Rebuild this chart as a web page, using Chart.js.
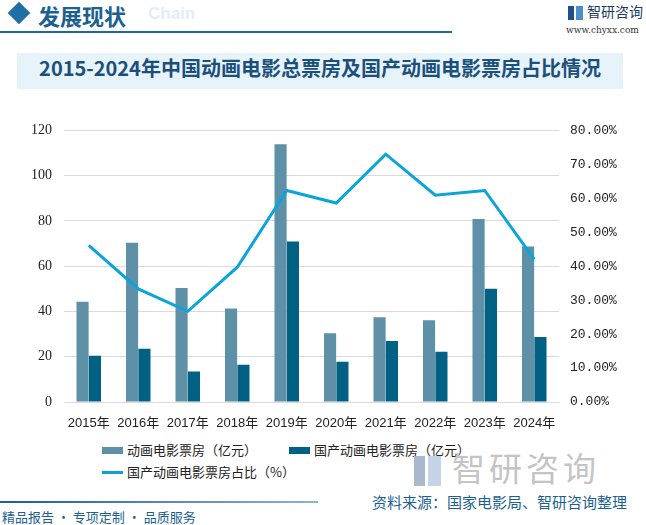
<!DOCTYPE html>
<html>
<head>
<meta charset="utf-8">
<script src="https://cdn.jsdelivr.net/npm/chart.js@4"></script>
<style>
  body { margin: 0; width: 646px; height: 525px; background: #fff; position: relative; overflow: hidden; font-family: "Noto Sans CJK SC", sans-serif; }
  .abs { position: absolute; white-space: nowrap; }
  #chart-box { position: absolute; left: 0; top: 110px; width: 646px; height: 320px; }
  .sw-bar { position: absolute; width: 21px; height: 7px; }
  .sw-line { position: absolute; width: 21px; height: 3px; }
  .lg-text { position: absolute; font-size: 13px; color: #222; line-height: 16px; }
</style>
</head>
<body>
<!-- header -->
<div class="abs" style="left:11px;top:5px;width:16px;height:16px;background:#1f6ea6;transform:rotate(45deg);"></div>
<div class="abs" style="left:148px;top:4px;font:bold 17px 'Liberation Sans';color:#e3eef8;">Chain</div>
<div class="abs" style="left:38px;top:-1px;font:bold 22px 'Noto Sans CJK SC';color:#1c5f91;">发展现状</div>
<div class="abs" style="left:0;top:31px;width:452px;height:2px;background:#1a6aa0;"></div>
<div class="abs" style="left:568px;top:6px;width:6px;height:14px;background:#1e4f86;"></div>
<div class="abs" style="left:576px;top:6px;width:7px;height:14px;background:#4a8fc8;"></div>
<div class="abs" style="left:587px;top:1px;font:14px 'Noto Sans CJK SC';color:#1a3a5f;">智研咨询</div>
<div class="abs" style="left:566px;top:25px;font:9px 'DejaVu Serif';color:#333;">www.chyxx.com</div>

<!-- title band -->
<div class="abs" style="left:17px;top:53px;width:606px;height:36px;background:#e7f3fb;"></div>
<div class="abs" style="left:17px;top:53px;width:606px;height:36px;line-height:36px;text-align:center;font:bold 20px 'Noto Sans CJK SC';color:#1b4f7c;">2015-2024年中国动画电影总票房及国产动画电影票房占比情况</div>

<div id="chart-box"><canvas id="myChart" width="646" height="320"></canvas></div>

<!-- legend -->
<div id="legend"></div>

<!-- watermark logo -->
<div class="abs" style="left:414px;top:456px;width:11px;height:30px;background:#a9b8cc;"></div>
<div class="abs" style="left:428px;top:456px;width:13px;height:30px;background:#c4d4e6;"></div>
<div class="abs" style="left:452px;top:444px;font:33px 'Noto Sans CJK SC';color:#c4c4c4;letter-spacing:4px;line-height:46px;">智研咨询</div>

<!-- footer -->
<div class="abs" style="left:0;top:501px;width:318px;height:2px;background:linear-gradient(to right,#1a5f91,#8fb3cf);"></div>
<div class="abs" style="left:372px;top:493px;font:15px 'Noto Sans CJK SC';color:#1c5f91;line-height:18px;">资料来源：国家电影局、智研咨询整理</div>
<div class="abs" style="left:2px;top:507px;font:13px 'Noto Sans CJK SC';color:#1c5f91;">精品报告 · 专项定制 · 品质服务</div>

<script>
const categories = ['2015年', '2016年', '2017年', '2018年', '2019年', '2020年', '2021年', '2022年', '2023年', '2024年'];
const totalBoxOffice = [44.3, 70.4, 50.4, 41.3, 113.9, 30.4, 37.4, 36.1, 80.9, 68.7];
const domesticBoxOffice = [20.4, 23.5, 13.5, 16.5, 70.9, 17.8, 27.0, 22.2, 50.0, 28.7];
const domesticShare = [46.1, 33.3, 26.7, 39.7, 62.3, 58.6, 73.0, 60.9, 62.3, 42.0];

const totalColor = '#5e91a8';
const domesticColor = '#006185';
const lineColor = '#0aa4dc';

document.addEventListener("DOMContentLoaded", () => {
  const ctx = document.getElementById('myChart').getContext('2d');
  const myChart = new Chart(ctx, {
    type: 'bar',
    data: {
      labels: categories,
      datasets: [{
        type: 'line',
        label: '国产动画电影票房占比（%）',
        data: domesticShare,
        yAxisID: 'y1',
        borderColor: lineColor,
        backgroundColor: lineColor,
        borderWidth: 3,
        pointRadius: 0,
        tension: 0,
        order: 0
      }, {
        label: '动画电影票房（亿元）',
        data: totalBoxOffice,
        yAxisID: 'y',
        backgroundColor: totalColor,
        categoryPercentage: 0.5,
        barPercentage: 0.98,
        order: 1
      }, {
        label: '国产动画电影票房（亿元）',
        data: domesticBoxOffice,
        yAxisID: 'y',
        backgroundColor: domesticColor,
        categoryPercentage: 0.5,
        barPercentage: 0.98,
        order: 1
      }]
    },
    options: {
      responsive: false,
      animation: false,
      devicePixelRatio: 1,
      layout: { padding: { top: 16, left: 0, right: 0, bottom: 0 } },
      plugins: {
        legend: { display: false },
        tooltip: { enabled: false }
      },
      scales: {
        x: {
          grid: { display: false },
          border: { color: '#d9d9d9' },
          ticks: { color: '#222', font: { size: 13, family: 'Liberation Sans, Noto Sans CJK SC' }, padding: 6, maxRotation: 0, autoSkip: false },
          afterFit: (scale) => { scale.height = 28; }
        },
        y: {
          min: 0, max: 120,
          ticks: { stepSize: 20, color: '#222', font: { size: 14, family: 'Liberation Serif' }, padding: 12 },
          grid: { color: '#d9d9d9', drawTicks: false },
          border: { display: false },
          afterFit: (scale) => { scale.width = 64; }
        },
        y1: {
          position: 'right',
          min: 0, max: 80,
          ticks: {
            stepSize: 10, color: '#222', padding: 11,
            font: { size: 13, family: 'Liberation Mono' },
            callback: (v) => v.toFixed(2) + '%'
          },
          grid: { display: false, drawTicks: false },
          border: { display: false },
          afterFit: (scale) => { scale.width = 87; }
        }
      }
    }
  });

  // html legend from the datasets
  const legend = document.getElementById('legend');
  const spots = [
    { ds: 1, left: 102, top: 442 },
    { ds: 2, left: 289, top: 442 },
    { ds: 0, left: 102, top: 464 }
  ];
  spots.forEach((s) => {
    const dataset = myChart.data.datasets[s.ds];
    const sw = legend.appendChild(document.createElement('div'));
    if (dataset.type === 'line') {
      sw.className = 'sw-line';
      sw.style.left = s.left + 'px';
      sw.style.top = (s.top + 7) + 'px';
      sw.style.background = dataset.borderColor;
    } else {
      sw.className = 'sw-bar';
      sw.style.left = s.left + 'px';
      sw.style.top = (s.top + 5) + 'px';
      sw.style.background = dataset.backgroundColor;
    }
    const txt = legend.appendChild(document.createElement('div'));
    txt.className = 'lg-text';
    txt.style.left = (s.left + 25) + 'px';
    txt.style.top = s.top + 'px';
    txt.innerText = dataset.label;
  });
});
</script>
</body>
</html>
